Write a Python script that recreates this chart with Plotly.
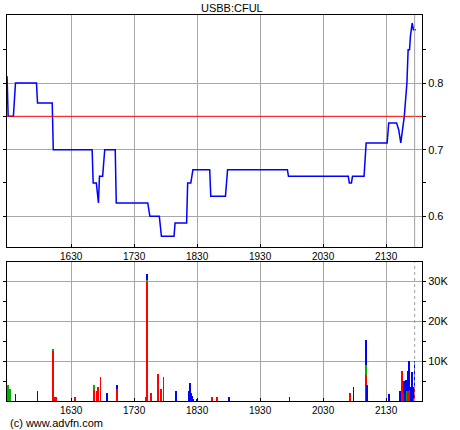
import plotly.graph_objects as go

DAY = "2024-01-02 "
TITLE = "USBB:CFUL"
REF_PRICE = 0.75
NOW_TIME = "21:57:12"
X_START = "15:28:55"
X_END = "22:04:12"
X_TICKS = ["16:30", "17:30", "18:30", "19:30", "20:30", "21:30"]

PRICE_TIMES = ["15:29", "15:30", "15:35", "15:37", "15:57", "15:58", "16:12", "16:13",
               "16:50", "16:51", "16:54", "16:56", "16:57", "17:00", "17:02", "17:12",
               "17:13", "17:43", "17:45", "17:54", "17:56", "18:08", "18:09", "18:20",
               "18:21", "18:24", "18:26", "18:42", "18:43", "18:57", "18:59", "19:56",
               "19:57", "20:54", "20:55", "20:57", "20:58", "21:09", "21:11", "21:31",
               "21:32:30", "21:40", "21:42", "21:44", "21:45:40", "21:46:40", "21:47:20",
               "21:49:50", "21:51", "21:52:20", "21:53:10", "21:54:50", "21:56", "21:58:20"]
PRICE_VALUES = [0.81, 0.75, 0.75, 0.80, 0.80, 0.77, 0.77, 0.70,
                0.70, 0.65, 0.65, 0.62, 0.66, 0.66, 0.70, 0.70,
                0.62, 0.62, 0.60, 0.60, 0.57, 0.57, 0.59, 0.59,
                0.65, 0.65, 0.67, 0.67, 0.63, 0.63, 0.67, 0.67,
                0.66, 0.66, 0.65, 0.65, 0.66, 0.66, 0.71, 0.71,
                0.74, 0.74, 0.73, 0.71, 0.73, 0.74, 0.75,
                0.80, 0.85, 0.85, 0.87, 0.89, 0.88, 0.88]

VOL_TIMES = ["15:30", "15:31", "15:32", "15:37", "15:58", "16:13", "16:15", "16:16",
             "16:34", "16:52", "16:55", "16:56", "16:58", "17:04", "17:14", "17:41",
             "17:42", "17:46", "17:53", "17:56", "17:58", "18:10", "18:22", "18:23",
             "18:24", "18:25", "18:26", "18:30", "18:44", "18:49", "19:00", "19:58",
             "20:56", "20:59", "21:11", "21:12", "21:33", "21:43", "21:45", "21:46",
             "21:47", "21:48", "21:49", "21:51", "21:52", "21:53", "21:54", "21:55",
             "21:56", "21:57"]
VOL_RED = [0, 0, 0, 0, 0, 12700, 900, 900,
           1000, 2700, 2400, 3400, 6000, 0, 3000, 900,
           30000, 1900, 6700, 2900, 6100, 0, 0, 0,
           0, 0, 0, 0, 1000, 1000, 0, 0,
           2000, 0, 6500, 0, 0, 0, 7500, 2000,
           2000, 0, 0, 2500, 2700, 2500, 0, 0,
           0, 4000]
VOL_GREEN = [4000, 300, 3000, 0, 0, 300, 0, 0,
             0, 1300, 0, 0, 0, 0, 0, 0,
             300, 0, 0, 0, 0, 0, 0, 0,
             0, 0, 0, 0, 0, 0, 0, 0,
             0, 0, 2500, 0, 0, 0, 0, 0,
             0, 0, 2500, 0, 0, 0, 0, 0,
             500, 0]
VOL_BLUE = [0, 0, 0, 1700, 2400, 0, 0, 0,
            0, 0, 0, 0, 0, 1900, 1000, 0,
            1600, 0, 0, 0, 0, 2400, 2400, 4500,
            2000, 1200, 300, 500, 0, 0, 1000, 1000,
            0, 3500, 6300, 4000, 1700, 2400, 0, 0,
            3000, 2500, 2700, 5000, 7300, 0, 3500, 7300,
            3000, 6000]

VOL_TICKS = [10000, 20000, 30000]
VOL_TICK_TEXT = ["10K", "20K", "30K"]
PRICE_TICKS = [0.6, 0.7, 0.8]


def ts(t):
    return DAY + (t if t.count(":") == 2 else t + ":00")


px = [ts(t) for t in PRICE_TIMES]
vx = [ts(t) for t in VOL_TIMES]
xt = [ts(t) for t in X_TICKS]
xtt = [t.replace(":", "") for t in X_TICKS]

FONT = "Liberation Sans"
fig = go.Figure()
fig.add_trace(go.Scatter(x=px, y=PRICE_VALUES, mode="lines",
                         line=dict(color="#0000ff", width=1.5),
                         xaxis="x", yaxis="y", showlegend=False))
for vals, col in [(VOL_RED, "#ff0000"), (VOL_GREEN, "#00b000"), (VOL_BLUE, "#0000ff")]:
    fig.add_trace(go.Bar(x=vx, y=vals, marker=dict(color=col, line=dict(width=0)),
                         width=50000, xaxis="x2", yaxis="y2", showlegend=False))

grid = "#a8a8a8"
xcommon = dict(type="date", range=[ts(X_START), ts(X_END)], tickvals=xt, ticktext=xtt,
               showgrid=True, gridcolor=grid, gridwidth=1, showline=True, linecolor="black",
               linewidth=1, mirror=True, ticks="inside", ticklen=3, tickcolor="black",
               tickfont=dict(family=FONT, size=10, color="black"), zeroline=False)
fig.update_layout(
    width=460, height=430,
    margin=dict(l=3, r=38, t=15, b=29),
    paper_bgcolor="white", plot_bgcolor="white",
    barmode="stack",
    xaxis=dict(domain=[0, 1], anchor="y", **xcommon),
    xaxis2=dict(domain=[0, 1], anchor="y2", **xcommon),
    yaxis=dict(domain=[0.399, 1.0], anchor="x", range=[0.554, 0.902], side="right",
               tickvals=PRICE_TICKS, ticktext=[f"{v:.1f}" for v in PRICE_TICKS],
               showgrid=True, gridcolor=grid, showline=True, linecolor="black", mirror="ticks",
               ticks="outside", ticklen=3, tickcolor="black", zeroline=False,
               minor=dict(tickvals=[0.55, 0.65, 0.75, 0.85], ticklen=3, ticks="outside",
                          tickcolor="black", showgrid=False),
               tickfont=dict(family=FONT, size=11, color="black")),
    yaxis2=dict(domain=[0, 0.360], anchor="x2", range=[0, 34900], side="right",
                tickvals=VOL_TICKS, ticktext=VOL_TICK_TEXT,
                showgrid=True, gridcolor=grid, showline=True, linecolor="black", mirror="ticks",
                ticks="outside", ticklen=3, tickcolor="black", zeroline=False,
                minor=dict(tickvals=[5000, 15000, 25000], ticklen=3, ticks="outside",
                           tickcolor="black", showgrid=False),
                tickfont=dict(family=FONT, size=11, color="black")),
    shapes=[
        dict(type="line", xref="x domain", yref="y", x0=0, x1=1, y0=REF_PRICE, y1=REF_PRICE,
             line=dict(color="#ff0000", width=1)),
        dict(type="line", xref="x", yref="y domain", x0=ts(NOW_TIME), x1=ts(NOW_TIME), y0=0, y1=1,
             line=dict(color="#a0a0a0", width=1)),
        dict(type="line", xref="x2", yref="y2 domain", x0=ts(NOW_TIME), x1=ts(NOW_TIME), y0=0, y1=1,
             line=dict(color="#a0a0a0", width=1, dash="dot")),
    ],
    annotations=[
        dict(text=TITLE, xref="paper", yref="paper", x=0.542, y=1.0174, xanchor="center",
             yanchor="middle", showarrow=False, font=dict(family=FONT, size=11, color="black")),
        dict(text="(c) www.advfn.com", xref="paper", yref="paper", x=0.003, y=-0.0557,
             xanchor="left", yanchor="middle", showarrow=False,
             font=dict(family=FONT, size=11, color="black")),
    ],
)
fig.write_html("out.html", config={"displayModeBar": False},
               post_script="document.body.style.margin='0';document.body.style.overflow='hidden';")
